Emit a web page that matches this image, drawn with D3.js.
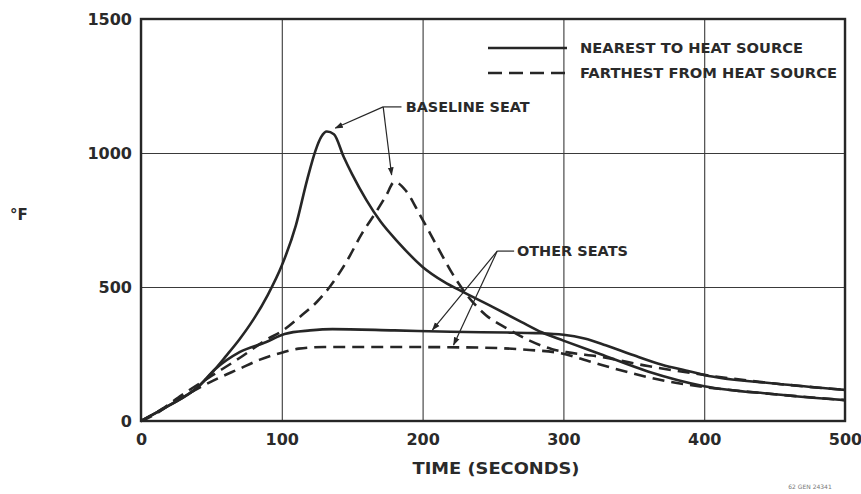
<!DOCTYPE html>
<html>
<head>
<meta charset="utf-8">
<script src="https://cdn.jsdelivr.net/npm/d3@7"></script>
<style>
  body { margin: 0; background: #ffffff; }
  svg { display: block; }
  .axis text { font-family: "DejaVu Sans", sans-serif; font-weight: bold; font-size: 16px; fill: #2a2a2a; }
  .axis path { display: none; }
  .axis line { stroke: #3a3a3a; stroke-width: 1.1; }
  .lbl { font-family: "DejaVu Sans", sans-serif; font-weight: bold; fill: #2a2a2a; }
</style>
</head>
<body>
<svg id="svg1" width="861" height="494"></svg>
<script>
// chart frame
const width = 861;
const height = 494;
const plotLeft = 141, plotRight = 845, plotTop = 19, plotBottom = 421;
const ink = "#262626";

// time ticks (seconds) and temperature ticks (deg F)
const timeTicks = [0, 100, 200, 300, 400, 500];
const tempTicks = [0, 500, 1000, 1500];

// baseline seat, nearest to heat source (solid)
const baselineNearT = [0, 20, 40, 50, 60, 70, 80, 90, 100, 110, 118, 124, 128, 132, 137, 144, 150, 160, 170, 183, 200, 215, 230, 250, 270, 285, 300, 326, 360, 400, 450, 500];
const baselineNearF = [0, 58, 125, 178, 240, 305, 380, 470, 580, 730, 900, 1010, 1060, 1080, 1070, 985, 920, 825, 745, 665, 575, 520, 478, 425, 370, 330, 300, 250, 185, 130, 100, 78];

// baseline seat, farthest from heat source (dashed)
const baselineFarT = [0, 15, 29, 50, 70, 90, 100, 112, 125, 134, 146, 157, 167, 174, 180, 188, 198, 210, 220, 233, 245, 260, 276, 292, 302, 326, 360, 400, 450, 500];
const baselineFarF = [0, 45, 97, 168, 235, 306, 335, 385, 445, 500, 595, 700, 780, 840, 892, 860, 770, 655, 560, 460, 395, 345, 300, 268, 257, 240, 205, 172, 140, 116];

// other seats, nearest to heat source (solid)
const otherNearT = [0, 20, 40, 53, 70, 89, 102, 120, 136, 180, 220, 260, 280, 300, 315, 330, 350, 370, 390, 400, 450, 500];
const otherNearF = [0, 58, 125, 195, 257, 295, 325, 338, 343, 338, 333, 330, 328, 322, 308, 283, 245, 210, 185, 172, 140, 116];

// other seats, farthest from heat source (dashed)
const otherFarT = [0, 10, 22, 40, 55, 70, 84, 100, 112, 130, 184, 240, 276, 297, 320, 340, 370, 400, 450, 500];
const otherFarF = [0, 25, 67, 120, 160, 195, 228, 255, 270, 276, 276, 274, 265, 254, 220, 190, 152, 127, 100, 78];

const legendLabels = ["NEAREST TO HEAT SOURCE", "FARTHEST FROM HEAT SOURCE"];

const xScale = d3.scaleLinear().domain([0, 500]).range([plotLeft, plotRight]);
const yScale = d3.scaleLinear().domain([0, 1500]).range([plotBottom, plotTop]);

const svg = d3.select("#svg1");
svg.append("rect").attr("width", width).attr("height", height).attr("fill", "#ffffff");

// grid + tick labels
const xAxisG = svg.append("g")
    .attr("class", "axis")
    .attr("transform", "translate(0," + plotBottom + ")")
    .call(d3.axisBottom(xScale).tickValues(timeTicks).tickSize(-(plotBottom - plotTop)).tickPadding(12).tickFormat(d3.format("d")));
xAxisG.selectAll("text").attr("dy", null).attr("dominant-baseline", "hanging");

const yAxisG = svg.append("g")
    .attr("class", "axis")
    .attr("transform", "translate(" + plotLeft + ",0)")
    .call(d3.axisLeft(yScale).tickValues(tempTicks).tickSize(-(plotRight - plotLeft)).tickPadding(9).tickFormat(d3.format("d")));
yAxisG.selectAll("text").attr("dy", null).attr("dominant-baseline", "central");

svg.append("rect")
    .attr("x", plotLeft).attr("y", plotTop)
    .attr("width", plotRight - plotLeft).attr("height", plotBottom - plotTop)
    .attr("fill", "none").attr("stroke", ink).attr("stroke-width", 2.4);

// curves
const line = d3.line()
    .x(d => xScale(d[0]))
    .y(d => yScale(d[1]))
    .curve(d3.curveMonotoneX);

const series = [
    { t: otherFarT, f: otherFarF, dash: "12,7" },
    { t: baselineFarT, f: baselineFarF, dash: "12,7" },
    { t: otherNearT, f: otherNearF, dash: null },
    { t: baselineNearT, f: baselineNearF, dash: null }
];

svg.selectAll("path.curve")
    .data(series)
    .enter()
    .append("path")
    .attr("class", "curve")
    .attr("d", s => line(d3.zip(s.t, s.f)))
    .attr("fill", "none")
    .attr("stroke", ink)
    .attr("stroke-width", 2.6)
    .attr("stroke-dasharray", s => s.dash);

// arrowheads for leader lines
svg.append("defs").append("marker")
    .attr("id", "arrow")
    .attr("viewBox", "0 0 10 10")
    .attr("refX", 9).attr("refY", 5)
    .attr("markerWidth", 7).attr("markerHeight", 7)
    .attr("orient", "auto")
    .append("path")
    .attr("d", "M0,1.5 L10,5 L0,8.5 Z")
    .attr("fill", ink);

function leader(hub, tip) {
    svg.append("line")
        .attr("x1", xScale(hub[0])).attr("y1", yScale(hub[1]))
        .attr("x2", xScale(tip[0])).attr("y2", yScale(tip[1]))
        .attr("stroke", ink).attr("stroke-width", 1.2)
        .attr("marker-end", "url(#arrow)");
}

// baseline seat callout
const baselineHub = [172, 1172];
svg.append("line")
    .attr("x1", xScale(baselineHub[0])).attr("y1", yScale(baselineHub[1]))
    .attr("x2", xScale(185)).attr("y2", yScale(baselineHub[1]))
    .attr("stroke", ink).attr("stroke-width", 1.2);
leader(baselineHub, [138, 1093]);
leader(baselineHub, [178, 918]);
svg.append("text").attr("class", "lbl")
    .attr("x", xScale(188)).attr("y", yScale(1172))
    .attr("dominant-baseline", "central")
    .attr("font-size", "14px")
    .attr("textLength", 124).attr("lengthAdjust", "spacingAndGlyphs")
    .text("BASELINE SEAT");

// other seats callout
const otherHub = [253, 634];
svg.append("line")
    .attr("x1", xScale(otherHub[0])).attr("y1", yScale(otherHub[1]))
    .attr("x2", xScale(265)).attr("y2", yScale(otherHub[1]))
    .attr("stroke", ink).attr("stroke-width", 1.2);
leader(otherHub, [207, 340]);
leader(otherHub, [222, 284]);
svg.append("text").attr("class", "lbl")
    .attr("x", xScale(267)).attr("y", yScale(634))
    .attr("dominant-baseline", "central")
    .attr("font-size", "14px")
    .attr("textLength", 111).attr("lengthAdjust", "spacingAndGlyphs")
    .text("OTHER SEATS");

// legend
const legend = svg.append("g").attr("transform", "translate(488,48)");
legendLabels.forEach((label, i) => {
    legend.append("line")
        .attr("x1", 0).attr("x2", 79)
        .attr("y1", i * 25).attr("y2", i * 25)
        .attr("stroke", ink).attr("stroke-width", 2.6)
        .attr("stroke-dasharray", i === 0 ? null : "14,7");
    legend.append("text").attr("class", "lbl")
        .attr("x", 92).attr("y", i * 25)
        .attr("dominant-baseline", "central")
        .attr("font-size", "14px")
        .attr("textLength", i === 0 ? 223 : 257).attr("lengthAdjust", "spacingAndGlyphs")
        .text(label);
});

// axis titles
svg.append("text").attr("class", "lbl")
    .attr("x", 496).attr("y", 468)
    .attr("text-anchor", "middle").attr("dominant-baseline", "central")
    .attr("font-size", "16px")
    .attr("textLength", 167).attr("lengthAdjust", "spacingAndGlyphs")
    .text("TIME (SECONDS)");

svg.append("text").attr("class", "lbl")
    .attr("x", 10).attr("y", 215)
    .attr("dominant-baseline", "central")
    .attr("font-size", "15px")
    .text("°F");

svg.append("text")
    .attr("x", 810).attr("y", 489)
    .attr("text-anchor", "middle")
    .attr("font-family", "DejaVu Sans, sans-serif")
    .attr("font-size", "6px")
    .attr("fill", "#777777")
    .text("62 GEN 24341");
</script>
</body>
</html>
